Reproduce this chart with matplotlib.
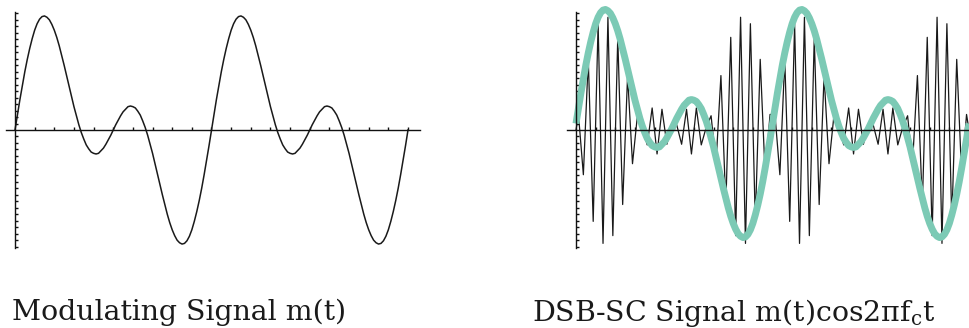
import numpy as np
import matplotlib
matplotlib.use("Agg")
import matplotlib.pyplot as plt

plt.rcParams["mathtext.fontset"] = "dejavuserif"

# m(t), one period, step 1/80 of the period
m_period = [0.00, 0.24, 0.47, 0.69, 0.90, 1.09, 1.26, 1.41, 1.54, 1.64, 1.71,
            1.75, 1.76, 1.74, 1.70, 1.63, 1.54, 1.43, 1.30, 1.15, 1.00, 0.84,
            0.68, 0.52, 0.36, 0.22, 0.08, -0.04, -0.14, -0.23, -0.29, -0.34,
            -0.36, -0.37, -0.36, -0.32, -0.28, -0.22, -0.15, -0.08, 0.00,
            0.08, 0.15, 0.22, 0.28, 0.32, 0.36, 0.37, 0.36, 0.34, 0.29, 0.23,
            0.14, 0.04, -0.08, -0.22, -0.36, -0.52, -0.68, -0.84, -1.00,
            -1.15, -1.30, -1.43, -1.54, -1.63, -1.70, -1.74, -1.76, -1.75,
            -1.71, -1.64, -1.54, -1.41, -1.26, -1.09, -0.90, -0.69, -0.47,
            -0.24, 0.00]

# DSB-SC trace: carrier peaks (alternating), one period
dsb_period = [0.24, -0.69, 1.09, -1.41, 1.64, -1.75, 1.74, -1.63, 1.43, -1.15,
              0.84, -0.52, 0.22, 0.04, -0.23, 0.34, -0.37, 0.32, -0.22, 0.08,
              0.08, -0.22, 0.32, -0.37, 0.34, -0.23, 0.04, 0.22, -0.52, 0.84,
              -1.15, 1.43, -1.63, 1.74, -1.75, 1.64, -1.41, 1.09, -0.69, 0.24]

n_periods = 2
overlay_shift = 0.1  # hand drawn envelope sits a little above the axis

m_vals = np.array(m_period + m_period[1:])
t_m = np.linspace(0, n_periods, len(m_vals))

dsb_vals = np.array([0.0] + dsb_period * n_periods + [0.0])
step = 1 / (2 * 20)
t_peaks = 0.0125 + step * np.arange(len(dsb_period) * n_periods)
t_dsb = np.concatenate([[0.0], t_peaks, [n_periods]])

W, H = 970, 328
fig = plt.figure(figsize=(W / 100, H / 100), dpi=100)

xlim = (-0.05, 2.07)
ylim = (-2.0, 2.0)
px_per_x = 196.5
ax_w = (xlim[1] - xlim[0]) * px_per_x
ax_bottom = (H - 259.6) / H
ax_h = 259.2 / H


def setup(ax, x_end):
    ax.set_xlim(*xlim)
    ax.set_ylim(*ylim)
    for s in ["top", "right"]:
        ax.spines[s].set_visible(False)
    ax.spines["left"].set_position(("data", 0))
    ax.spines["bottom"].set_position(("data", 0))
    ax.spines["left"].set_bounds(-1.82, 1.82)
    ax.spines["bottom"].set_bounds(-0.046, x_end)
    for s in ["left", "bottom"]:
        ax.spines[s].set_linewidth(1.0)
        ax.spines[s].set_color("#111111")
    xt = np.round(np.arange(0.1, 2.01, 0.1), 2)
    yt = np.round([v for v in np.arange(-1.8, 1.81, 0.1) if abs(v) > 0.01], 2)
    ax.set_xticks(xt)
    ax.set_yticks(yt)
    ax.set_xticklabels([])
    ax.set_yticklabels([])
    ax.tick_params(direction="in", length=2.5, width=1.0, color="#111111")
    ax.patch.set_visible(False)


# left: modulating signal
ax1 = fig.add_axes([(15 - 0.05 * px_per_x) / W, ax_bottom, ax_w / W, ax_h])
setup(ax1, 2.06)
ax1.plot(t_m, m_vals, color="#1a1a1a", lw=1.1, solid_joinstyle="round")

# right: DSB-SC signal with envelope
ax2 = fig.add_axes([(576 - 0.05 * px_per_x) / W, ax_bottom, ax_w / W, ax_h])
setup(ax2, 2.07)
ax2.plot(t_dsb, dsb_vals, color="#1a1a1a", lw=0.9)
ax2.plot(t_m, m_vals + overlay_shift, color="#7ccab5", lw=5.0,
         solid_capstyle="butt", solid_joinstyle="round")

fig.text(12 / W, 1 - 320 / H, "Modulating Signal m(t)", family="DejaVu Serif",
         fontsize=20.4, color="#1a1a1a", ha="left", va="baseline")
fig.text(532 / W, 1 - 321 / H, r"DSB-SC Signal m(t)cos2πf$_{\rm c}$t",
         family="DejaVu Serif", fontsize=20.4, color="#1a1a1a", ha="left",
         va="baseline")

fig.savefig("out.png", dpi=100)
